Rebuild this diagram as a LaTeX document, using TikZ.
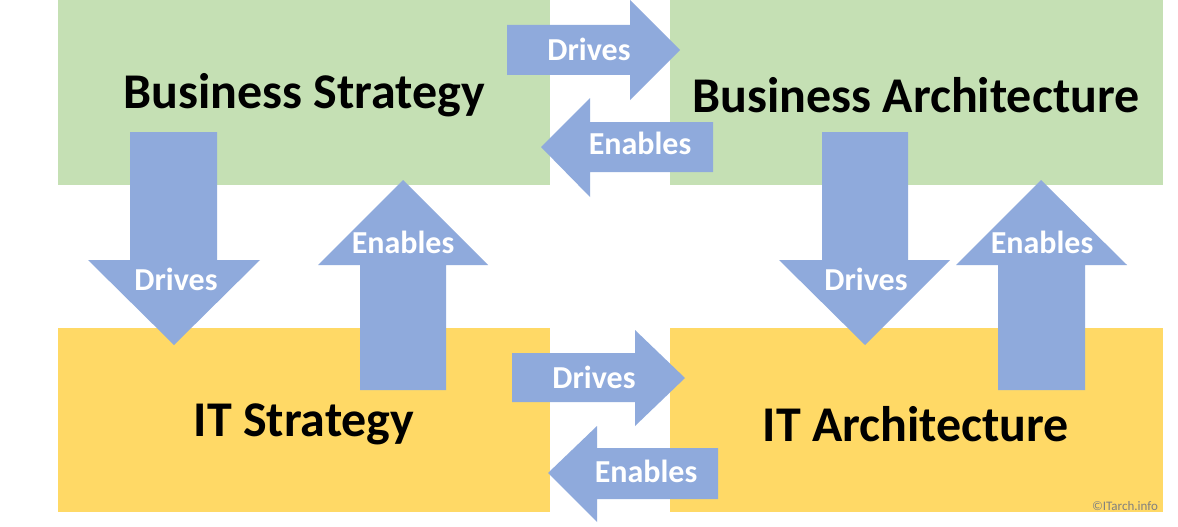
\documentclass[tikz,border=0pt]{standalone}
\usepackage{fontspec}
\setmainfont{Carlito}
\definecolor{gbox}{HTML}{C5E0B4}
\definecolor{ybox}{HTML}{FFD966}
\definecolor{arr}{HTML}{8FAADC}
\tikzset{title/.style={font=\bfseries\fontsize{50}{54}\selectfont},
 lbl/.style={text=white,font=\bfseries\fontsize{32}{36}\selectfont},
 arrowfill/.style={fill=arr}}
\begin{document}
\begin{tikzpicture}[x=1pt,y=-1pt]
\useasboundingbox[fill=white] (0,0) rectangle (1178,527);
\fill[gbox] (58,0) rectangle (550,185);
\fill[gbox] (670,0) rectangle (1163,185);
\fill[ybox] (58,328) rectangle (550,512);
\fill[ybox] (670,328) rectangle (1163,512);
\node[title] (bs) at (304,95) {Business Strategy};
\node[title] (ba) at (916,95) {Business Architecture};
\node[title] (its) at (304,424) {IT Strategy};
\node[title] (ita) at (916,424) {IT Architecture};
% right arrows
\fill[arrowfill] (507,25)--(630,25)--(630,0)--(680,50)--(630,100)--(630,75)--(507,75)--cycle;
\node[lbl] at (589,49) {Drives};
\fill[arrowfill] (512,353)--(635,353)--(635,330)--(685,378)--(635,426)--(635,402)--(512,402)--cycle;
\node[lbl] at (594,377) {Drives};
% left arrows
\fill[arrowfill] (713,122)--(590,122)--(590,98)--(541,147)--(590,197)--(590,172)--(713,172)--cycle;
\node[lbl] at (640,143) {Enables};
\fill[arrowfill] (718,448)--(597,448)--(597,426)--(548,473)--(597,522)--(597,499)--(718,499)--cycle;
\node[lbl] at (646,471) {Enables};
% down arrows
\fill[arrowfill] (130,132)--(217,132)--(217,260)--(260,260)--(174,345)--(88,260)--(130,260)--cycle;
\node[lbl] at (176,279) {Drives};
\fill[arrowfill] (822,132)--(908,132)--(908,260)--(950,260)--(865,345)--(779,260)--(822,260)--cycle;
\node[lbl] at (866,279) {Drives};
% up arrows
\fill[arrowfill] (360,390)--(446,390)--(446,265)--(488,265)--(403,180)--(318,265)--(360,265)--cycle;
\node[lbl] at (403,242) {Enables};
\fill[arrowfill] (998,390)--(1085,390)--(1085,265)--(1127,265)--(1041,180)--(956,265)--(998,265)--cycle;
\node[lbl] at (1042,242) {Enables};
\node[text=gray,font=\fontsize{13}{15}\selectfont] (c) at (1125,506) {©ITarch.info};
\end{tikzpicture}
\end{document}
